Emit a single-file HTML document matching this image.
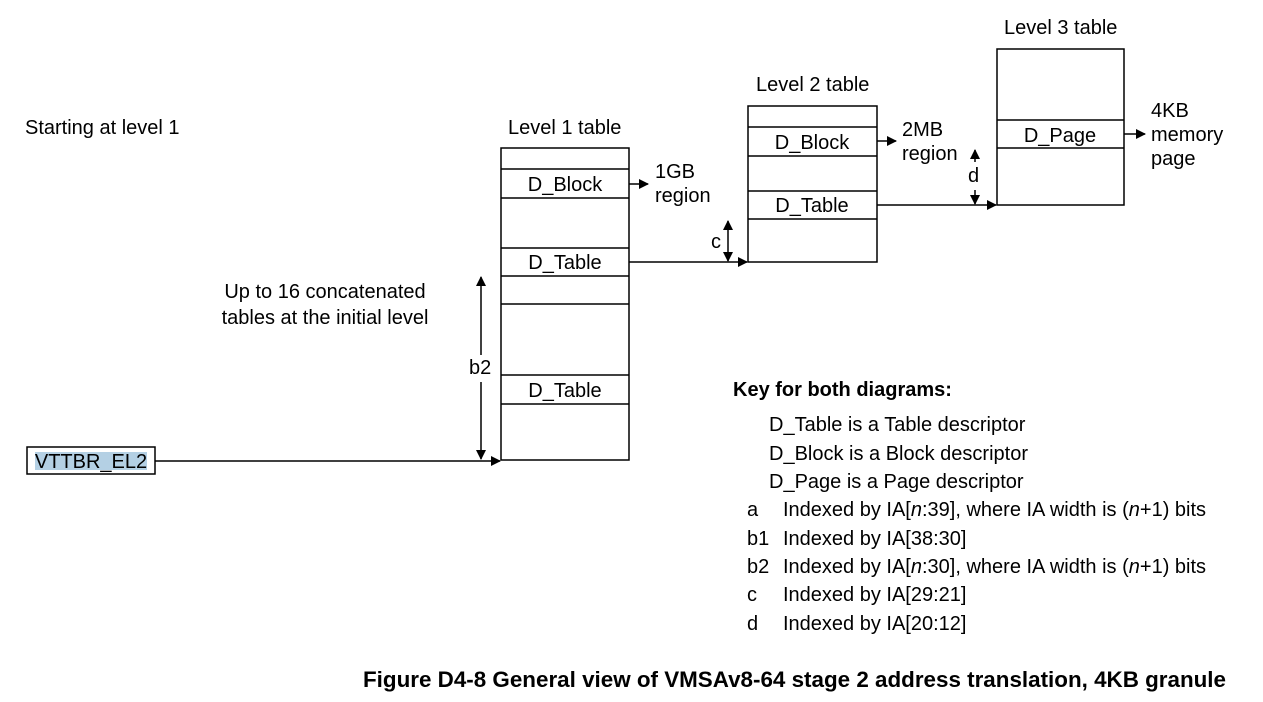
<!DOCTYPE html>
<html><head><meta charset="utf-8"><style>
html,body{margin:0;padding:0;background:#fff;}
svg{display:block;font-family:"Liberation Sans",Arial,sans-serif;}
</style></head><body>
<svg width="1263" height="702" viewBox="0 0 1263 702" xmlns="http://www.w3.org/2000/svg">
<defs>
<marker id="ah" markerWidth="10" markerHeight="10" refX="9" refY="5" orient="auto" markerUnits="userSpaceOnUse">
<path d="M0,0 L10,5 L0,10 z" fill="#000"/></marker>
</defs>
<g font-size="20" fill="#000">
<text x="25" y="134">Starting at level 1</text>
<text x="508" y="134">Level 1 table</text>
<text x="756" y="91">Level 2 table</text>
<text x="1004" y="34">Level 3 table</text>
<text x="325" y="298" text-anchor="middle">Up to 16 concatenated</text>
<text x="325" y="324" text-anchor="middle">tables at the initial level</text>
</g>
<g fill="none" stroke="#000" stroke-width="1.5">
<rect x="501" y="148" width="128" height="312"/>
<line x1="501" y1="169" x2="629" y2="169"/><line x1="501" y1="198" x2="629" y2="198"/>
<line x1="501" y1="248" x2="629" y2="248"/><line x1="501" y1="276" x2="629" y2="276"/>
<line x1="501" y1="304" x2="629" y2="304"/><line x1="501" y1="375" x2="629" y2="375"/>
<line x1="501" y1="404" x2="629" y2="404"/>
<rect x="748" y="106" width="129" height="156"/>
<line x1="748" y1="127" x2="877" y2="127"/><line x1="748" y1="156" x2="877" y2="156"/>
<line x1="748" y1="191" x2="877" y2="191"/><line x1="748" y1="219" x2="877" y2="219"/>
<rect x="997" y="49" width="127" height="156"/>
<line x1="997" y1="120" x2="1124" y2="120"/><line x1="997" y1="148" x2="1124" y2="148"/>
<rect x="27" y="447" width="128" height="27"/>
</g>
<rect x="35" y="452" width="112" height="18" fill="#b4d0e4"/>
<g font-size="20" fill="#000" text-anchor="middle">
<text x="565" y="191">D_Block</text>
<text x="565" y="269">D_Table</text>
<text x="565" y="397">D_Table</text>
<text x="812" y="149">D_Block</text>
<text x="812" y="212">D_Table</text>
<text x="1060" y="142">D_Page</text>
<text x="91" y="468">VTTBR_EL2</text>
</g>
<g font-size="20" fill="#000">
<text x="655" y="178">1GB</text><text x="655" y="202">region</text>
<text x="902" y="136">2MB</text><text x="902" y="160">region</text>
<text x="1151" y="117">4KB</text><text x="1151" y="141">memory</text><text x="1151" y="165">page</text>
<text x="711" y="248">c</text>
<text x="968" y="182">d</text>
<text x="469" y="374">b2</text>
</g>
<g stroke="#000" stroke-width="1.5" fill="none">
<line x1="629" y1="184" x2="648" y2="184" marker-end="url(#ah)"/>
<line x1="877" y1="141" x2="896" y2="141" marker-end="url(#ah)"/>
<line x1="1124" y1="134" x2="1145" y2="134" marker-end="url(#ah)"/>
<line x1="629" y1="262" x2="747" y2="262" marker-end="url(#ah)"/>
<line x1="877" y1="205" x2="996" y2="205" marker-end="url(#ah)"/>
<line x1="155" y1="461" x2="500" y2="461" marker-end="url(#ah)"/>
<line x1="728" y1="242" x2="728" y2="221" marker-end="url(#ah)"/>
<line x1="728" y1="242" x2="728" y2="261" marker-end="url(#ah)"/>
<line x1="975" y1="162" x2="975" y2="150" marker-end="url(#ah)"/>
<line x1="975" y1="190" x2="975" y2="204" marker-end="url(#ah)"/>
<line x1="481" y1="355" x2="481" y2="277" marker-end="url(#ah)"/>
<line x1="481" y1="382" x2="481" y2="459" marker-end="url(#ah)"/>
</g>
<g font-size="20" fill="#000">
<text x="733" y="396" font-weight="bold">Key for both diagrams:</text>
<text x="769" y="431">D_Table is a Table descriptor</text>
<text x="769" y="460">D_Block is a Block descriptor</text>
<text x="769" y="488">D_Page is a Page descriptor</text>
<text x="747" y="516">a</text><text x="783" y="516">Indexed by IA[<tspan font-style="italic">n</tspan>:39], where IA width is (<tspan font-style="italic">n</tspan>+1) bits</text>
<text x="747" y="545">b1</text><text x="783" y="545">Indexed by IA[38:30]</text>
<text x="747" y="573">b2</text><text x="783" y="573">Indexed by IA[<tspan font-style="italic">n</tspan>:30], where IA width is (<tspan font-style="italic">n</tspan>+1) bits</text>
<text x="747" y="601">c</text><text x="783" y="601">Indexed by IA[29:21]</text>
<text x="747" y="630">d</text><text x="783" y="630">Indexed by IA[20:12]</text>
<text x="363" y="687" font-size="22" font-weight="bold" textLength="863" lengthAdjust="spacingAndGlyphs">Figure D4-8 General view of VMSAv8-64 stage 2 address translation, 4KB granule</text>
</g>
</svg>
</body></html>
